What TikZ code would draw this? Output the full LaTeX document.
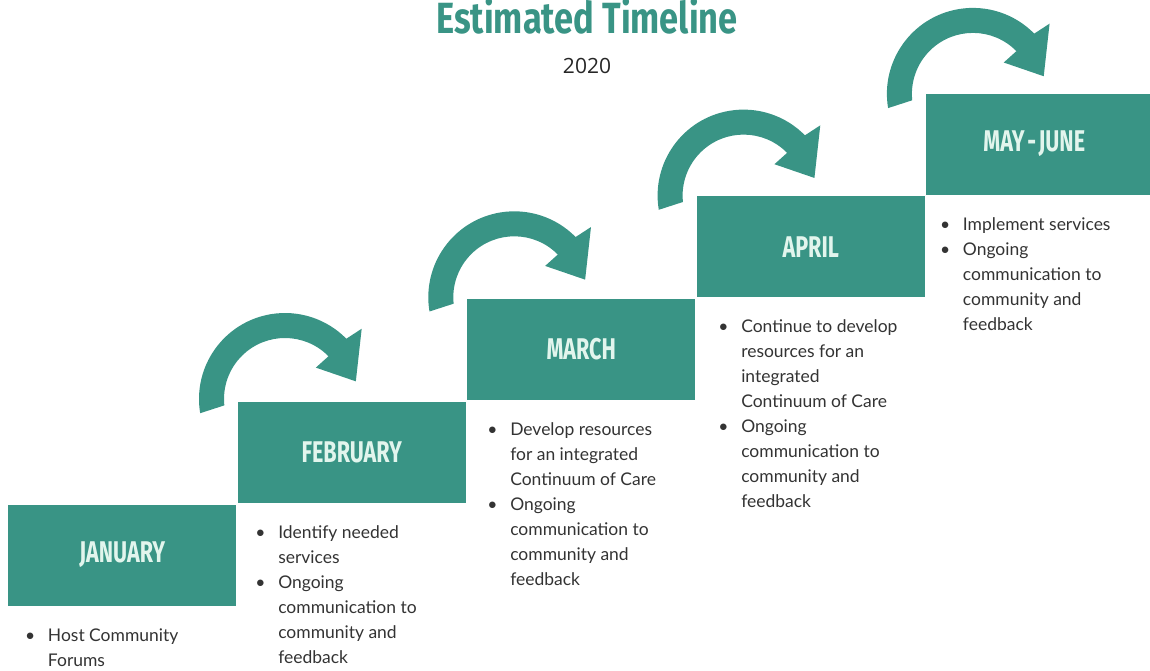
\documentclass[tikz,border=0pt]{standalone}
\usepackage{fontspec}
\setmainfont{Lato}
\newfontfamily\titlefont{Fira Sans}
\newfontfamily\yearfont{Open Sans}
\definecolor{teal1}{RGB}{57,148,133}
\definecolor{mint}{RGB}{226,245,237}
\definecolor{bodytext}{RGB}{51,51,51}
\newcommand{\blist}[1]{\begin{minipage}[t]{190pt}\raggedright\fontsize{13.1}{18.75}\selectfont #1\end{minipage}}
\newcommand{\bitem}{\par\leavevmode\llap{\textbullet\hspace{9.5pt}}}
\newcommand{\mlabel}[1]{\scalebox{0.77}[1.07]{\bfseries #1}}
\tikzset{
  monthbox/.style={fill=teal1, draw=white, line width=0.75pt, minimum width=171.4pt, minimum height=76.5pt, inner sep=0pt, text=mint, font=\titlefont\fontsize{21}{24}\selectfont},
  listnode/.style={anchor=base west, inner sep=0pt, text=bodytext},
  turnarrow/.pic={\fill[teal1] (189.5:86) arc[start angle=189.5,end angle=44.5,radius=86] -- (42.5:104) -- (14:73) -- (45.5:44) -- (44.5:61) arc[start angle=44.5,end angle=186,radius=61] -- cycle;}
}
\begin{document}
\begin{tikzpicture}[x=0.75pt,y=0.75pt]
\useasboundingbox (0,0) rectangle (1150,-671);
\clip (0,0) rectangle (1150,-671);
% title
\node[font=\titlefont\bfseries\fontsize{31.5}{36}\selectfont, text=teal1, anchor=base, inner sep=0pt] (title) at (587,-33) {\scalebox{0.82}[1.04]{Estimated Timeline}};
\node[font=\yearfont\fontsize{15.75}{18}\selectfont, text=black!85, anchor=base, inner sep=0pt] (year) at (587,-73) {2020};
% arrows
\pic at (285,-399) {turnarrow};
\pic at (514.3,-297.3) {turnarrow};
\pic at (743.6,-195.6) {turnarrow};
\pic at (972.9,-93.9) {turnarrow};
% boxes
\node[monthbox] (jan) at (122.25,-555) {\mlabel{JANUARY}};
\node[monthbox] (feb) at (351.75,-452.25) {\mlabel{FEBRUARY}};
\node[monthbox] (mar) at (581.25,-349.5) {\mlabel{MARCH}};
\node[monthbox] (apr) at (810.75,-246.75) {\mlabel{APRIL}};
\node[monthbox] (may) at (1040.25,-144) {\mlabel{MAY\kern2.5pt-\kern2.5pt JUNE}\hspace{9pt}\mbox{}};
% lists
\node[listnode] (janlist) at (47.7,-641.5) {\blist{\bitem Host Community\\ Forums}};
\node[listnode] (feblist) at (278,-538.6) {\blist{\bitem Identify needed\\ services\bitem Ongoing\\ communication to\\ community and\\ feedback}};
\node[listnode] (marlist) at (510,-435.7) {\blist{\bitem Develop resources\\ for an integrated\\ Continuum of Care\bitem Ongoing\\ communication to\\ community and\\ feedback}};
\node[listnode] (aprlist) at (741,-332.8) {\blist{\bitem Continue to develop\\ resources for an\\ integrated\\ Continuum of Care\bitem Ongoing\\ communication to\\ community and\\ feedback}};
\node[listnode] (maylist) at (962.7,-230) {\blist{\bitem Implement services\bitem Ongoing\\ communication to\\ community and\\ feedback}};
\end{tikzpicture}
\end{document}
